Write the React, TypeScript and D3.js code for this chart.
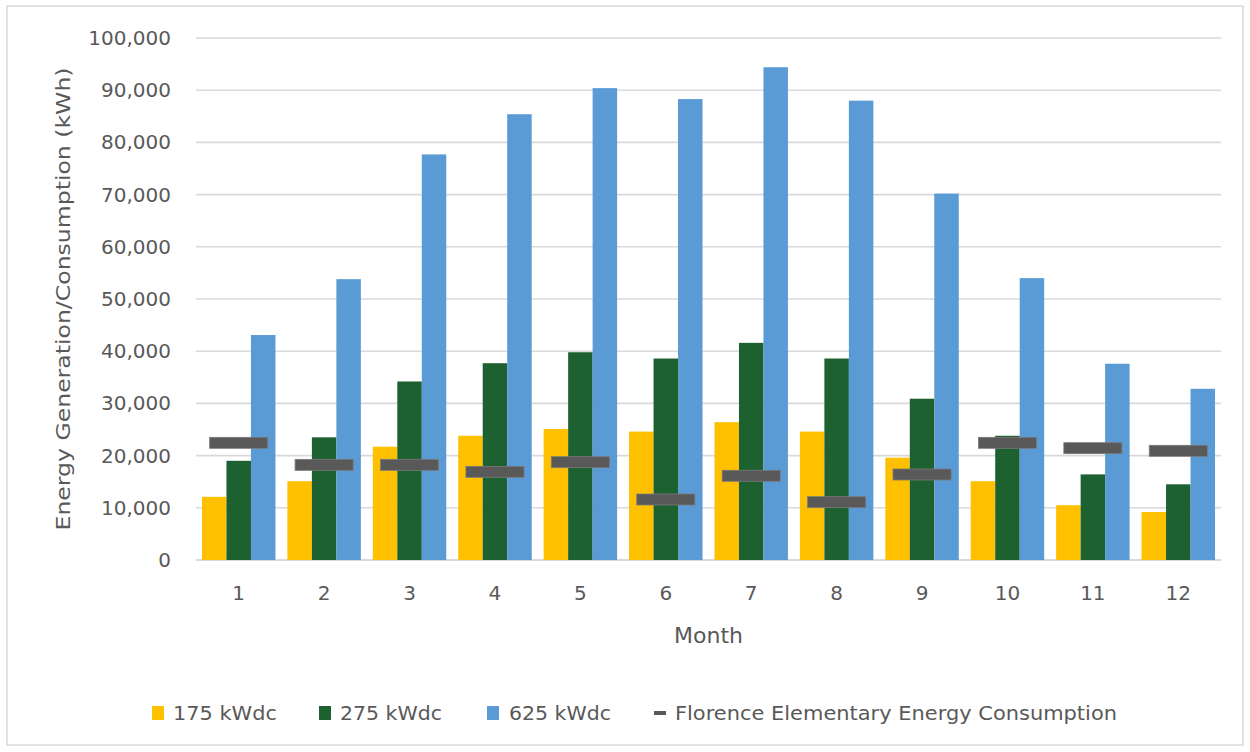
import React from "react";
import * as d3 from "d3";

const months = ["1", "2", "3", "4", "5", "6", "7", "8", "9", "10", "11", "12"];
const gen175 = [12100, 15100, 21700, 23800, 25100, 24600, 26400, 24600, 19600, 15100, 10500, 9200];
const gen275 = [19000, 23500, 34200, 37700, 39800, 38600, 41600, 38600, 30900, 23800, 16400, 14500];
const gen625 = [43100, 53800, 77700, 85400, 90400, 88300, 94400, 88000, 70200, 54000, 37600, 32800];
const consumption = [22450, 18230, 18230, 16890, 18740, 11590, 16130, 11080, 16380, 22450, 21420, 20920];
const yTicks = [0, 10000, 20000, 30000, 40000, 50000, 60000, 70000, 80000, 90000, 100000];
const seriesNames = ["175 kWdc", "275 kWdc", "625 kWdc"];
const consumptionName = "Florence Elementary Energy Consumption";

const COLORS = ["#FFC000", "#1E6131", "#5B9BD5"];
const DASH = "#595959";
const FONT = "'DejaVu Sans', 'Open Sans', sans-serif";

export default function App() {
  const W = 1250, H = 752;
  const left = 196, right = 1221, top = 38, bottom = 560;
  const x = d3.scaleBand<string>().domain(months).range([left, right]).paddingInner(0.14).paddingOuter(0.07);
  const xs = d3.scaleBand<number>().domain([0, 1, 2]).range([0, x.bandwidth()]).padding(0);
  const y = d3.scaleLinear().domain([0, 100000]).range([bottom, top]);
  const fmt = d3.format(",");
  const series = [gen175, gen275, gen625];
  const step = x.step();

  const legendItems = [
    { label: seriesNames[0], color: COLORS[0], sq: 152, tx: 173, tw: 104, kind: "sq" },
    { label: seriesNames[1], color: COLORS[1], sq: 319, tx: 340, tw: 102, kind: "sq" },
    { label: seriesNames[2], color: COLORS[2], sq: 487, tx: 509, tw: 102, kind: "sq" },
    { label: consumptionName, color: DASH, sq: 654, tx: 675, tw: 442, kind: "dash" },
  ];

  return (
    <svg width={W} height={H} style={{ position: "absolute", left: 0, top: 0, background: "#fff" }} fontFamily={FONT}>
      <rect x={0} y={0} width={W} height={H} fill="#fff" />
      <rect x={7} y={6} width={1236} height={739} fill="none" stroke="#d9d9d9" strokeWidth={1.5} />
      {yTicks.map((t) => (
        <g key={t}>
          <line x1={left} x2={right} y1={y(t)} y2={y(t)} stroke="#d9d9d9" strokeWidth={t === 0 ? 2 : 1.6} />
          <text x={171} y={y(t)} dy="0.35em" textAnchor="end" fontSize={20} fill="#595959">{fmt(t)}</text>
        </g>
      ))}
      {months.map((m, i) => (
        <g key={m}>
          {series.map((s, j) => (
            <rect key={j} x={(x(m) as number) + (xs(j) as number)} y={y(s[i])} width={xs.bandwidth()} height={bottom - y(s[i])} fill={COLORS[j]} />
          ))}
        </g>
      ))}
      {months.map((m, i) => {
        const cx = (x(m) as number) + x.bandwidth() / 2;
        const w = step * 0.68;
        return (
          <rect key={"c" + m} x={cx - w / 2} y={y(consumption[i]) - 5.5} width={w} height={11} fill={DASH} stroke="#7a7a7a" strokeWidth={0.8} />
        );
      })}
      {months.map((m) => (
        <text key={"t" + m} x={(x(m) as number) + x.bandwidth() / 2} y={593} dy="0.35em" textAnchor="middle" fontSize={20} fill="#595959">{m}</text>
      ))}
      <text x={(left + right) / 2} y={635} dy="0.35em" textAnchor="middle" fontSize={22} fill="#595959">Month</text>
      <text transform={`translate(63, ${(top + bottom) / 2}) rotate(-90)`} dy="0.35em" textAnchor="middle" fontSize={20} fill="#595959" textLength={463} lengthAdjust="spacingAndGlyphs">Energy Generation/Consumption (kWh)</text>
      {legendItems.map((it) => (
        <g key={it.label}>
          {it.kind === "sq" ? (
            <rect x={it.sq} y={706} width={12} height={14} fill={it.color} />
          ) : (
            <rect x={it.sq} y={711} width={12} height={4} fill={it.color} />
          )}
          <text x={it.tx} y={713} dy="0.35em" fontSize={19} fill="#595959" textLength={it.tw} lengthAdjust="spacingAndGlyphs">{it.label}</text>
        </g>
      ))}
    </svg>
  );
}
